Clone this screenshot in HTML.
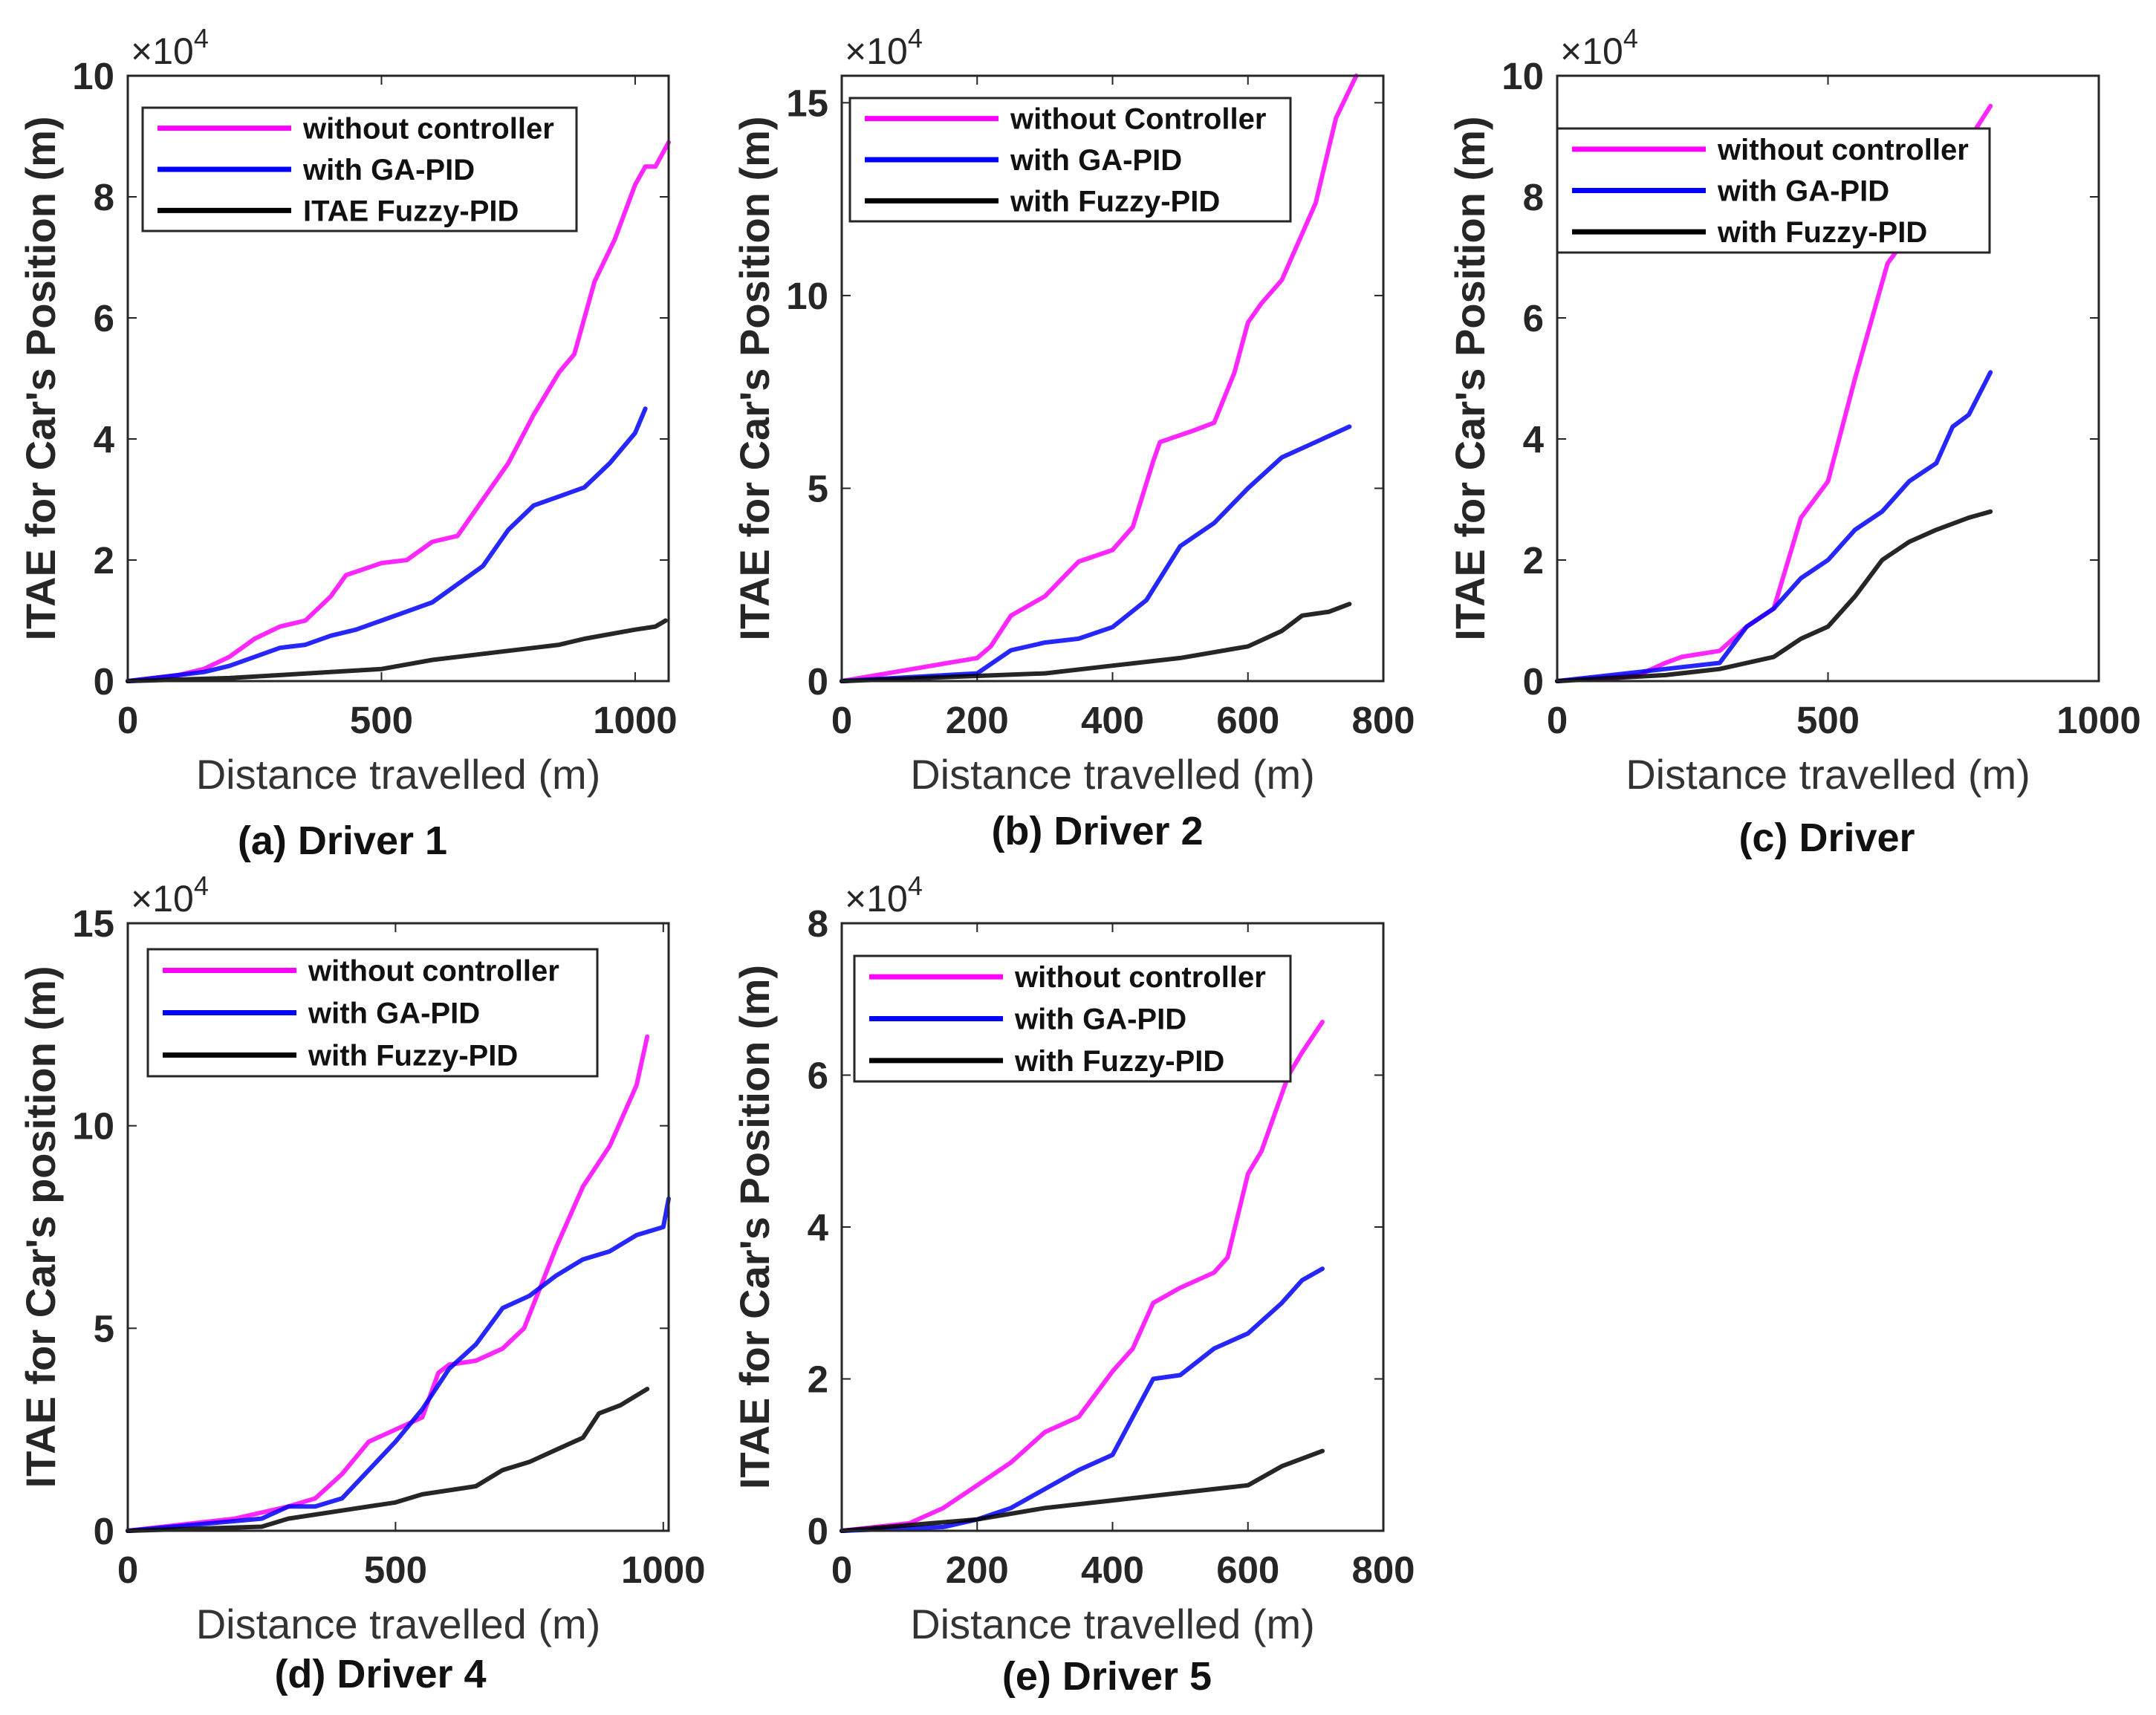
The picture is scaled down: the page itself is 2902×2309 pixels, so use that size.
<!DOCTYPE html>
<html><head><meta charset="utf-8">
<style>
html,body{margin:0;padding:0;background:#fff;}
svg{display:block;font-family:"Liberation Sans",Arial,sans-serif;}
</style></head>
<body>
<svg id="fig" width="2902" height="2309" viewBox="0 0 2902 2309" xmlns="http://www.w3.org/2000/svg"></svg>
<script>
// ---- Panel data (x in m, y in units of 1e4) ----
const aPinkX=[0,100,150,200,250,300,350,400,430,500,550,600,650,700,750,800,850,880,920,960,1000,1020,1040,1066];
const aPinkY=[0,0.1,0.2,0.4,0.7,0.9,1.0,1.4,1.75,1.95,2.0,2.3,2.4,3.0,3.6,4.4,5.1,5.4,6.6,7.3,8.2,8.5,8.5,8.9];
const aBlueX=[0,150,200,250,300,350,400,450,500,550,600,650,700,750,800,850,900,950,1000,1020];
const aBlueY=[0,0.15,0.25,0.4,0.55,0.6,0.75,0.85,1.0,1.15,1.3,1.6,1.9,2.5,2.9,3.05,3.2,3.6,4.1,4.5];
const aBlackX=[0,200,300,400,500,600,700,800,850,900,1000,1040,1060];
const aBlackY=[0,0.05,0.1,0.15,0.2,0.35,0.45,0.55,0.6,0.7,0.85,0.9,1.0];

const bPinkX=[0,100,200,220,250,300,350,400,430,460,470,520,550,580,600,620,650,700,730,760];
const bPinkY=[0,0.3,0.6,0.9,1.7,2.2,3.1,3.4,4.0,5.7,6.2,6.5,6.7,8.0,9.3,9.8,10.4,12.4,14.6,15.7];
const bBlueX=[0,200,250,300,350,400,450,500,550,600,650,700,750];
const bBlueY=[0,0.2,0.8,1.0,1.1,1.4,2.1,3.5,4.1,5.0,5.8,6.2,6.6];
const bBlackX=[0,300,400,500,600,650,680,720,750];
const bBlackY=[0,0.2,0.4,0.6,0.9,1.3,1.7,1.8,2.0];

const cPinkX=[0,150,200,230,300,350,400,450,500,550,610,700,750,800];
const cPinkY=[0,0.1,0.3,0.4,0.5,0.9,1.2,2.7,3.3,5.0,6.9,8.0,8.8,9.5];
const cBlueX=[0,200,300,350,400,450,500,550,600,650,700,730,760,800];
const cBlueY=[0,0.2,0.3,0.9,1.2,1.7,2.0,2.5,2.8,3.3,3.6,4.2,4.4,5.1];
const cBlackX=[0,200,300,400,450,500,550,600,650,700,760,800];
const cBlackY=[0,0.1,0.2,0.4,0.7,0.9,1.4,2.0,2.3,2.5,2.7,2.8];

const dPinkX=[0,200,300,350,400,450,500,550,580,600,650,700,740,800,850,900,950,970];
const dPinkY=[0,0.3,0.6,0.8,1.4,2.2,2.5,2.8,3.9,4.1,4.2,4.5,5.0,7.0,8.5,9.5,11.0,12.2];
const dBlueX=[0,250,300,350,400,450,500,550,600,650,700,750,800,850,900,950,1000,1010];
const dBlueY=[0,0.3,0.6,0.6,0.8,1.5,2.2,3.0,4.0,4.6,5.5,5.8,6.3,6.7,6.9,7.3,7.5,8.2];
const dBlackX=[0,250,300,400,500,550,650,700,750,800,850,880,920,970];
const dBlackY=[0,0.1,0.3,0.5,0.7,0.9,1.1,1.5,1.7,2.0,2.3,2.9,3.1,3.5];

const ePinkX=[0,100,150,200,250,300,350,400,430,460,500,550,570,600,620,660,680,710];
const ePinkY=[0,0.1,0.3,0.6,0.9,1.3,1.5,2.1,2.4,3.0,3.2,3.4,3.6,4.7,5.0,6.0,6.3,6.7];
const eBlueX=[0,150,200,250,300,350,400,430,460,500,550,600,650,680,710];
const eBlueY=[0,0.05,0.15,0.3,0.55,0.8,1.0,1.5,2.0,2.05,2.4,2.6,3.0,3.3,3.45];
const eBlackX=[0,200,300,400,500,600,650,710];
const eBlackY=[0,0.15,0.3,0.4,0.5,0.6,0.85,1.05];

const xTicksA=[0,500,1000], yTicksA=[0,2,4,6,8,10];
const xTicksB=[0,200,400,600,800], yTicksB=[0,5,10,15];
const xTicksC=[0,500,1000], yTicksC=[0,2,4,6,8,10];
const xTicksD=[0,500,1000], yTicksD=[0,5,10,15];
const xTicksE=[0,200,400,600,800], yTicksE=[0,2,4,6,8];

const NS="http://www.w3.org/2000/svg";
const svg=document.getElementById('fig');
function mk(tag,attrs,parent,text){const e=document.createElementNS(NS,tag);for(const k in attrs)e.setAttribute(k,attrs[k]);if(text!==undefined)e.textContent=text;(parent||svg).appendChild(e);return e;}

function panel(p){
  const g=mk('g',{});
  
  
  const sx=v=>p.x0+(v-p.xmin)/(p.xmax-p.xmin)*(p.x1-p.x0);
  const sy=v=>p.y1-(v-p.ymin)/(p.ymax-p.ymin)*(p.y1-p.y0);
  const bg=mk('rect',{x:p.x0,y:p.y0,width:p.x1-p.x0,height:p.y1-p.y0,fill:'#fff'},g);
  
  
  p.xt.forEach(t=>{
    const X=sx(t);
    mk('line',{x1:X,y1:p.y1,x2:X,y2:p.y1-12,stroke:'#262626','stroke-width':2},g);
    mk('line',{x1:X,y1:p.y0,x2:X,y2:p.y0+12,stroke:'#262626','stroke-width':2},g);
    const tl=mk('text',{x:X,y:p.y1+70,'text-anchor':'middle','font-size':51,'font-weight':'bold',fill:'#262626'},g,String(t));
    
    
  });
  p.yt.forEach(t=>{
    const Y=sy(t);
    mk('line',{x1:p.x0,y1:Y,x2:p.x0+12,y2:Y,stroke:'#262626','stroke-width':2},g);
    mk('line',{x1:p.x1,y1:Y,x2:p.x1-12,y2:Y,stroke:'#262626','stroke-width':2},g);
    const tl=mk('text',{x:p.x0-18,y:Y+18,'text-anchor':'end','font-size':51,'font-weight':'bold',fill:'#262626'},g,String(t));
    
    
  });
  const ex=mk('text',{x:p.x0+4,y:p.y0-16,'font-size':50,fill:'#262626'},g,'×10');
  
  
  mk('tspan',{dy:-22,'font-size':36},ex,'4');
  const cols=['#ff00ff','#0000ff','#000000'];
  const names=['without','ga-pid','fuzzy-pid'];
  p.series.forEach((s,i)=>{
    const d=s[0].map((x,j)=>(j?'L':'M')+sx(x).toFixed(1)+' '+sy(s[1][j]).toFixed(1)).join(' ');
    const path=mk('path',{d:d,fill:'none',stroke:cols[i],'stroke-width':6,'stroke-linejoin':'round','stroke-linecap':'round',opacity:0.85},g);
    
    
  });
  mk('rect',{x:p.x0,y:p.y0,width:p.x1-p.x0,height:p.y1-p.y0,fill:'none',stroke:'#262626','stroke-width':3},g);
  const L=p.leg;
  const lg=mk('g',{},g);
  
  
  mk('rect',{x:L.x,y:L.y,width:L.w,height:L.h,fill:'#fff',stroke:'#262626','stroke-width':3},lg);
  const rowH=L.h/3;
  p.labels.forEach((lab,i)=>{
    const cy=L.y+rowH*(i+0.5);
    mk('line',{x1:L.x+20,y1:cy,x2:L.x+200,y2:cy,stroke:cols[i],'stroke-width':7},lg);
    const t=mk('text',{x:L.x+216,y:cy+14,'font-size':40,'font-weight':'bold',fill:'#111'},lg,lab);
    
    
  });
  const xl=mk('text',{x:(p.x0+p.x1)/2,y:p.y1+145,'text-anchor':'middle','font-size':56,fill:'#333'},g,'Distance travelled (m)');
  
  
  const yc=(p.y0+p.y1)/2;
  const yl=mk('text',{x:p.x0-98,y:yc,'text-anchor':'middle','font-size':56,'font-weight':'bold',fill:'#262626',transform:'rotate(-90 '+(p.x0-98)+' '+yc+')'},g,p.ylab);
  
  
  const cap=mk('text',{x:p.capx,y:p.capy,'text-anchor':'middle','font-size':54,'font-weight':'bold',fill:'#111'},g,p.cap);
  
  
}

const std=['without controller','with GA-PID','with Fuzzy-PID'];
panel({id:'a',x0:172,x1:900,y0:102,y1:917,xmin:0,xmax:1066,ymin:0,ymax:10,xt:xTicksA,yt:yTicksA,
  series:[[aPinkX,aPinkY],[aBlueX,aBlueY],[aBlackX,aBlackY]],
  leg:{x:192,y:145,w:584,h:166},labels:['without controller','with GA-PID','ITAE Fuzzy-PID'],
  ylab:"ITAE for Car's Position (m)",cap:'(a) Driver 1',capx:461,capy:1150});
panel({id:'b',x0:1133,x1:1862,y0:102,y1:917,xmin:0,xmax:800,ymin:0,ymax:15.7,xt:xTicksB,yt:yTicksB,
  series:[[bPinkX,bPinkY],[bBlueX,bBlueY],[bBlackX,bBlackY]],
  leg:{x:1144,y:132,w:593,h:166},labels:['without Controller','with GA-PID','with Fuzzy-PID'],
  ylab:"ITAE for Car's Position (m)",cap:'(b) Driver 2',capx:1477,capy:1137});
panel({id:'c',x0:2096,x1:2825,y0:102,y1:917,xmin:0,xmax:1000,ymin:0,ymax:10,xt:xTicksC,yt:yTicksC,
  series:[[cPinkX,cPinkY],[cBlueX,cBlueY],[cBlackX,cBlackY]],
  leg:{x:2096,y:173,w:582,h:167},labels:std,
  ylab:"ITAE for Car's Position (m)",cap:'(c) Driver',capx:2459,capy:1146});
panel({id:'d',x0:172,x1:900,y0:1243,y1:2061,xmin:0,xmax:1010,ymin:0,ymax:15,xt:xTicksD,yt:yTicksD,
  series:[[dPinkX,dPinkY],[dBlueX,dBlueY],[dBlackX,dBlackY]],
  leg:{x:199,y:1278,w:605,h:171},labels:std,
  ylab:"ITAE for Car's position (m)",cap:'(d) Driver 4',capx:512,capy:2272});
panel({id:'e',x0:1133,x1:1862,y0:1243,y1:2061,xmin:0,xmax:800,ymin:0,ymax:8,xt:xTicksE,yt:yTicksE,
  series:[[ePinkX,ePinkY],[eBlueX,eBlueY],[eBlackX,eBlackY]],
  leg:{x:1150,y:1287,w:587,h:169},labels:std,
  ylab:"ITAE for Car's Position (m)",cap:'(e) Driver 5',capx:1490,capy:2275});
</script>
</body></html>
